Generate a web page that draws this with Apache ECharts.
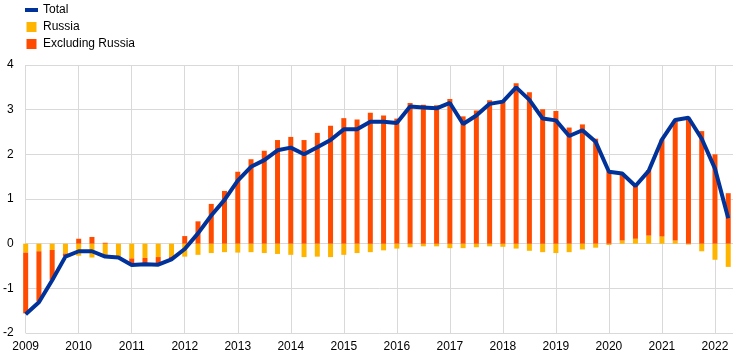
<!DOCTYPE html>
<html>
<head>
<meta charset="utf-8">
<script src="https://cdn.jsdelivr.net/npm/echarts@6/dist/echarts.min.js"></script>
<style>
html,body{margin:0;padding:0;background:#fff;}
#chart{width:744px;height:361px;}
</style>
</head>
<body>
<div id="chart"></div>
<script>
// Quarterly periods, 2009 Q1 to 2022 Q2
var startYear = 2009;
var quarters = 54;
var yearTicks = [2009,2010,2011,2012,2013,2014,2015,2016,2017,2018,2019,2020,2021,2022];

var russia = [-0.20,-0.17,-0.14,-0.22,-0.27,-0.31,-0.30,-0.29,-0.33,-0.32,-0.30,-0.29,-0.29,-0.25,-0.21,-0.19,
  -0.20,-0.19,-0.21,-0.23,-0.25,-0.30,-0.29,-0.30,-0.25,-0.21,-0.19,-0.15,-0.11,-0.08,-0.06,-0.06,
  -0.10,-0.10,-0.08,-0.06,-0.07,-0.11,-0.16,-0.19,-0.21,-0.19,-0.13,-0.09,-0.03,0.07,0.11,0.18,
  0.16,0.07,-0.02,-0.17,-0.36,-0.52];
var excludingRussia = [-1.36,-1.12,-0.67,-0.06,0.11,0.15,0.02,0.00,-0.15,-0.12,-0.14,-0.05,0.17,0.50,0.89,1.18,
  1.61,1.89,2.08,2.32,2.39,2.32,2.48,2.64,2.81,2.78,2.93,2.87,2.80,3.15,3.11,3.10,
  3.24,2.85,2.98,3.21,3.19,3.59,3.39,3.01,2.97,2.60,2.67,2.35,1.62,1.50,1.18,1.47,
  2.17,2.69,2.80,2.52,2.00,1.13];
var total = [-1.58,-1.31,-0.82,-0.29,-0.17,-0.17,-0.29,-0.31,-0.48,-0.46,-0.47,-0.35,-0.12,0.23,0.63,0.98,
  1.41,1.72,1.87,2.09,2.15,2.00,2.16,2.32,2.56,2.56,2.73,2.73,2.70,3.07,3.05,3.03,
  3.15,2.68,2.87,3.13,3.18,3.50,3.22,2.80,2.76,2.41,2.54,2.28,1.61,1.57,1.29,1.63,
  2.33,2.77,2.82,2.35,1.68,0.57];
var yTicks = [-2,-1,0,1,2,3,4];

var xs = [];
for (var i = 0; i < quarters; i++) xs.push(startYear + i * 0.25);
// value first, x second, so the stack applies to the value dimension
function pairs(vals){ return vals.map(function(v,i){ return [v, xs[i]]; }); }

var chart = echarts.init(document.getElementById('chart'), null, {renderer:'canvas'});
var font = 'Liberation Sans, Arial, sans-serif';
chart.setOption({
  animation: false,
  textStyle: {fontFamily: font},
  legend: {
    orient: 'vertical', left: 25, top: 4, padding: 0,
    itemWidth: 13, itemHeight: 10, itemGap: 5,
    textStyle: {fontSize: 12, color: '#000', fontFamily: font},
    data: [
      {name: 'Total', icon: 'path://M0,0H13V4H0Z'},
      {name: 'Russia', icon: 'path://M0,0H10V10H0Z'},
      {name: 'Excluding Russia', icon: 'path://M0,0H10V10H0Z'}
    ]
  },
  grid: {left: 25, right: 11, top: 65, bottom: 28, containLabel: false},
  xAxis: {
    type: 'value', min: yearTicks[0], max: 2022.34, interval: 1,
    axisLine: {show: false}, axisTick: {show: false},
    axisLabel: {fontSize: 12, color: '#000', fontFamily: font, margin: 8, showMaxLabel: false,
      formatter: function(v){ return yearTicks.indexOf(v) >= 0 ? String(v) : ''; }},
    splitLine: {show: true, showMaxLine: false, lineStyle: {color: '#d9d9d9', width: 1}}
  },
  yAxis: {
    type: 'value', min: yTicks[0], max: yTicks[yTicks.length-1], interval: 1,
    axisLine: {show: false}, axisTick: {show: false},
    axisLabel: {fontSize: 12, color: '#000', fontFamily: font, margin: 12},
    splitLine: {show: true, lineStyle: {color: '#d9d9d9', width: 1}}
  },
  series: [
    {name: 'Russia', type: 'bar', stack: 's', barWidth: 5, data: pairs(russia),
      encode: {x: 1, y: 0}, itemStyle: {color: '#FFB400'}},
    {name: 'Excluding Russia', type: 'bar', stack: 's', barWidth: 5, data: pairs(excludingRussia),
      encode: {x: 1, y: 0}, itemStyle: {color: '#FF4B00'}},
    {name: 'Total', type: 'line', data: pairs(total), encode: {x: 1, y: 0}, showSymbol: false, symbol: 'none', z: 5,
      lineStyle: {color: '#003299', width: 4}, itemStyle: {color: '#003299'}}
  ]
});
</script>
</body>
</html>
